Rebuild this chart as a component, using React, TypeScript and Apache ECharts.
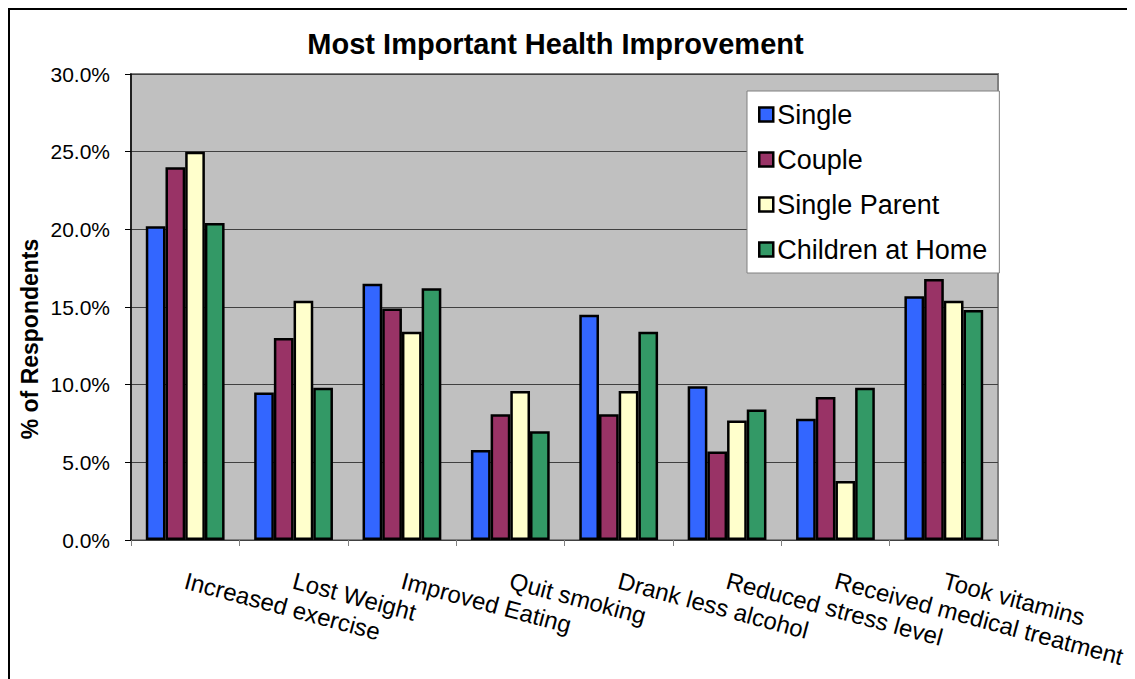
import React, { useEffect, useRef } from "react";
import * as echarts from "echarts";

const categories = [
  "Increased exercise",
  "Lost Weight",
  "Improved Eating",
  "Quit smoking",
  "Drank less alcohol",
  "Reduced stress level",
  "Received medical treatment",
  "Took vitamins",
];
const seriesNames = ["Single", "Couple", "Single Parent", "Children at Home"];
const single = [20.2, 9.5, 16.5, 5.8, 14.5, 9.9, 7.8, 15.7];
const couple = [24.0, 13.0, 14.9, 8.1, 8.1, 5.7, 9.2, 16.8];
const singleParent = [25.0, 15.4, 13.4, 9.6, 9.6, 7.7, 3.8, 15.4];
const childrenAtHome = [20.4, 9.8, 16.2, 7.0, 13.4, 8.4, 9.8, 14.8];
const colors = ["#3366FF", "#993366", "#FFFFCC", "#339966"];
const yMin = 0;
const yMax = 30;
const yInterval = 5;

const FONT = "'Liberation Sans', Arial, Helvetica, sans-serif";

export default function App() {
  const ref = useRef<HTMLDivElement>(null);
  useEffect(() => {
    document.documentElement.style.overflow = "hidden";
    document.body.style.overflow = "hidden";
    if (!ref.current) return;
    const chart = echarts.init(ref.current, null, { renderer: "svg" });
    const data = [single, couple, singleParent, childrenAtHome];
    chart.setOption({
      animation: false,
      textStyle: { fontFamily: FONT },
      graphic: [
        {
          type: "text",
          x: 545.5,
          y: 33.5,
          style: {
            text: "Most Important Health Improvement",
            font: `bold 29px ${FONT}`,
            fill: "#000",
            textAlign: "center",
            textVerticalAlign: "middle",
          },
        },
        {
          type: "text",
          x: 20,
          y: 329,
          rotation: Math.PI / 2,
          style: {
            text: "% of Respondents",
            font: `bold 23px ${FONT}`,
            fill: "#000",
            textAlign: "center",
            textVerticalAlign: "middle",
          },
        },
      ],
      legend: {
        orient: "vertical",
        left: 737,
        top: 81,
        data: seriesNames,
        backgroundColor: "#FFFFFF",
        borderColor: "#808080",
        borderWidth: 1,
        padding: [10, 12, 10, 11],
        itemGap: 18,
        itemWidth: 14,
        itemHeight: 14,
        icon: "rect",
        itemStyle: { borderColor: "#000", borderWidth: 2.5 },
        textStyle: { fontSize: 27, color: "#000", fontFamily: FONT, padding: [0, 0, 0, -1] },
      },
      grid: {
        left: 121,
        top: 64,
        width: 867,
        height: 466,
        show: true,
        backgroundColor: "#C0C0C0",
        borderColor: "#808080",
        borderWidth: 2,
      },
      xAxis: {
        type: "category",
        data: categories,
        axisLine: { show: true, lineStyle: { color: "#404040", width: 1 } },
        axisTick: { show: true, interval: 0, length: 6, lineStyle: { color: "#808080" } },
        axisLabel: {
          interval: 0,
          rotate: -15,
          margin: 40,
          fontSize: 24,
          color: "#000",
          fontFamily: FONT,
        },
        splitLine: { show: false },
      },
      yAxis: {
        type: "value",
        min: yMin,
        max: yMax,
        interval: yInterval,
        axisLine: { show: true, lineStyle: { color: "#000", width: 1.5 } },
        axisTick: { show: true, length: 6, lineStyle: { color: "#000" } },
        axisLabel: {
          margin: 21,
          fontSize: 21,
          color: "#000",
          fontFamily: FONT,
          formatter: (v: number) => v.toFixed(1) + "%",
        },
        splitLine: { show: true, lineStyle: { color: "#404040", width: 1 } },
      },
      series: seriesNames.map((name, i) => ({
        name,
        type: "bar",
        data: data[i],
        barGap: "0%",
        barCategoryGap: "27.3%",
        itemStyle: { color: colors[i], borderColor: "#000", borderWidth: 2.5 },
      })),
    });
    return () => chart.dispose();
  }, []);
  return (
    <div
      style={{
        width: 1127,
        height: 671,
        boxSizing: "border-box",
        borderLeft: "2px solid #000",
        borderTop: "2px solid #000",
        background: "#fff",
      }}
    >
      <div ref={ref} style={{ width: 1125, height: 669 }} />
    </div>
  );
}
